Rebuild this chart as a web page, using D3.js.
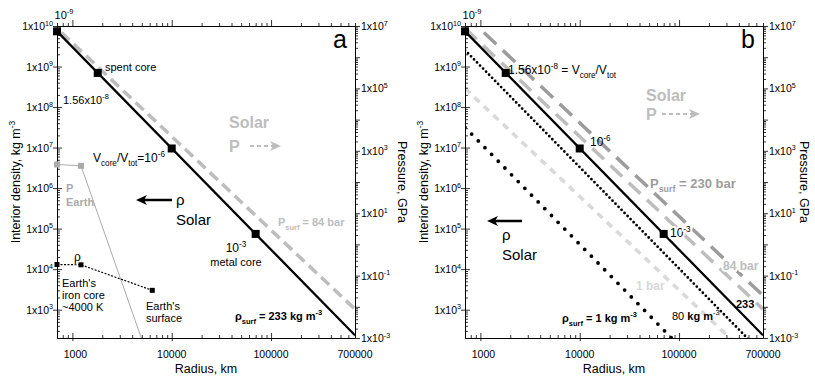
<!DOCTYPE html>
<html>
<head>
<meta charset="utf-8">
<script src="https://cdn.jsdelivr.net/npm/d3@7"></script>
<style>
  body { margin: 0; background: #fff; }
  .halo { paint-order: stroke; stroke: #fff; stroke-width: 4px; stroke-linejoin: round; }
</style>
</head>
<body>
<svg id="chart" width="815" height="378" font-family="Arial, 'Liberation Sans', sans-serif"></svg>
<script>
// axis extents and labelled ticks
const radiusDomain = [700, 700000];
const densityDomain = [200, 1e10];
const pressureDomain = [1e-3, 1e7];
const radiusLabels = [1000, 10000, 100000, 700000];
const densityLabels = [3, 4, 5, 6, 7, 8, 9, 10];        // exponents
const pressureLabels = [-3, -1, 1, 3, 5, 7];            // exponents

// solar-composition profiles: straight lines on log-log, end points at 700 km and 700000 km
const curveRadius = [700, 700000];
const rho233 = [7.4e9, 233];
const rho80 = [2.53e9, 80];
const rho1 = [3.16e7, 1];
const p84 = [8.4e6, 8.4e-3];       // GPa
const p230 = [2.3e7, 2.3e-2];
const p1bar = [1e5, 1e-4];

// core sizes marked on the 233 kg m-3 profile
const coreRadius = [700, 1800, 10000, 70000];
const coreDensity = [7.4e9, 6.95e8, 9.5e6, 7.4e4];

// Earth
const earthRadius = [700, 1220, 6371];
const earthDensity = [13000, 12800, 3000];
const earthPressure = [364, 330, 1e-4];

const W = 298, TOP = 26, BOTTOM = 338;
const svg = d3.select("#chart");

// text with sub/superscripts: parts = [[text, "sup"|"sub"|null, weight?], ...]
function rich(g, x, y, parts, size, opts = {}) {
    const t = g.append("text").attr("x", x).attr("y", y)
        .attr("font-size", size)
        .attr("fill", opts.fill || "#000")
        .attr("text-anchor", opts.anchor || "start")
        .attr("font-weight", opts.bold ? "bold" : "normal");
    if (opts.halo) t.attr("class", "halo");
    let shift = 0;
    parts.forEach(([txt, kind, w]) => {
        const target = kind === "sup" ? -0.42 * size : kind === "sub" ? 0.32 * size : 0;
        const ts = t.append("tspan").attr("dy", target - shift)
            .attr("font-size", kind ? size * 0.68 : size)
            .text(txt);
        if (w !== undefined) ts.attr("font-weight", w);
        shift = target;
    });
    if (opts.rotate) t.attr("transform", `rotate(${opts.rotate},${x},${y})`);
    return t;
}

const isMajor = d => Math.abs(Math.log10(d) - Math.round(Math.log10(d))) < 1e-6;

function panel(left, tag, rightTitle) {
    const right = left + W;
    const x = d3.scaleLog().domain(radiusDomain).range([left, right]);
    const y = d3.scaleLog().domain(densityDomain).range([BOTTOM, TOP]);
    const yp = d3.scaleLog().domain(pressureDomain).range([BOTTOM, TOP]);
    const g = svg.append("g");

    g.append("clipPath").attr("id", "clip" + tag)
        .append("rect").attr("x", left).attr("y", TOP).attr("width", W).attr("height", BOTTOM - TOP);
    const plot = g.append("g").attr("clip-path", `url(#clip${tag})`);

    // axes
    const tickLines = (sel, major, minor) => sel.selectAll(".tick line")
        .attr("stroke", "#000").attr("stroke-width", 0.8)
        .each(function (d) { d3.select(this).call(isMajor(d) ? major : minor); });

    const xt = x.ticks(30);
    g.append("g").attr("transform", `translate(0,${BOTTOM})`)
        .call(d3.axisBottom(x).tickValues(xt).tickFormat("").tickSizeOuter(0))
        .call(s => tickLines(s, l => l.attr("y1", 3).attr("y2", -5), l => l.attr("y2", -3)));
    g.append("g").attr("transform", `translate(0,${TOP})`)
        .call(d3.axisTop(x).tickValues(xt).tickFormat("").tickSizeOuter(0))
        .call(s => tickLines(s, l => l.attr("y2", -6), l => l.attr("y2", -3)));
    g.append("g").attr("transform", `translate(${left},0)`)
        .call(d3.axisLeft(y).tickValues(y.ticks(40)).tickFormat("").tickSizeOuter(0))
        .call(s => tickLines(s, l => l.attr("x1", 5).attr("x2", -4), l => l.attr("x2", 3)));
    g.append("g").attr("transform", `translate(${right},0)`)
        .call(d3.axisRight(yp).tickValues(yp.ticks(40)).tickFormat("").tickSizeOuter(0))
        .call(s => tickLines(s, l => l.attr("x2", 5), l => l.attr("x2", 3)));
    g.selectAll(".domain").attr("stroke", "#000").attr("stroke-width", 1);

    // tick labels
    radiusLabels.forEach(v => g.append("text").attr("x", x(v) + (v === 1000 ? 3 : 0)).attr("y", 358)
        .attr("text-anchor", "middle").attr("font-size", 10.5).text(v));
    densityLabels.forEach(e => rich(g, left - 4, y(Math.pow(10, e)) + 4,
        [["1x10"], [String(e), "sup"]], 10.5, { anchor: "end" }));
    pressureLabels.forEach(e => rich(g, right + 6, yp(Math.pow(10, e)) + 4,
        [["1x10"], [String(e), "sup"]], 10.5));
    rich(g, left + 7, 19, [["10"], ["-9", "sup"]], 11, { anchor: "middle" });

    // axis titles
    const mid = (TOP + BOTTOM) / 2;
    g.append("text").attr("x", left + W / 2).attr("y", 373).attr("text-anchor", "middle")
        .attr("font-size", 12.5).text("Radius, km");
    rich(g, left - 37, mid, [["Interior density, kg m"], ["-3", "sup"]], 12.5,
        { anchor: "middle", rotate: -90 });
    g.append("text").attr("x", right + rightTitle).attr("y", mid).attr("text-anchor", "middle")
        .attr("font-size", 12.5).attr("transform", `rotate(90,${right + rightTitle},${mid})`)
        .text("Pressure, GPa");

    g.append("text").attr("x", right - 22).attr("y", 48).attr("font-size", 25).text(tag);

    const line = sc => d3.line().x(d => x(d[0])).y(d => sc(d[1]));
    return { g, plot, x, y, yp, line, left };
}

function coreMarkers(p) {
    p.plot.append("path").datum(d3.zip(curveRadius, rho233)).attr("d", p.line(p.y))
        .attr("fill", "none").attr("stroke", "#000").attr("stroke-width", 2.3);
    p.g.selectAll(null).data(d3.zip(coreRadius, coreDensity)).join("rect")
        .attr("x", d => p.x(d[0]) - 4).attr("y", d => p.y(d[1]) - 4)
        .attr("width", 8).attr("height", 8).attr("fill", "#000");
}

function arrowLeft(g, x1, x2, yy) {
    g.append("line").attr("x1", x1).attr("x2", x2 + 6).attr("y1", yy).attr("y2", yy)
        .attr("stroke", "#000").attr("stroke-width", 2.5);
    g.append("path").attr("d", `M${x2},${yy} L${x2 + 11},${yy - 5} L${x2 + 8},${yy} L${x2 + 11},${yy + 5} Z`)
        .attr("fill", "#000");
}
function arrowRightDashed(g, x1, x2, yy, color) {
    g.append("line").attr("x1", x1).attr("x2", x2 - 8).attr("y1", yy).attr("y2", yy)
        .attr("stroke", color).attr("stroke-width", 1.8).attr("stroke-dasharray", "4,3");
    g.append("path").attr("d", `M${x2},${yy} L${x2 - 11},${yy - 5} L${x2 - 8},${yy} L${x2 - 11},${yy + 5} Z`)
        .attr("fill", color);
}

// ---------- panel a ----------
const a = panel(57, "a", 43);
a.plot.append("path").datum(d3.zip(curveRadius, p84)).attr("d", a.line(a.yp))
    .attr("fill", "none").attr("stroke", "#bdbdbd").attr("stroke-width", 3.5)
    .attr("stroke-dasharray", "11,6").attr("stroke-dashoffset", -6);
coreMarkers(a);

// Earth pressure and density
a.plot.append("path").datum(d3.zip(earthRadius, earthPressure)).attr("d", a.line(a.yp))
    .attr("fill", "none").attr("stroke", "#aaa").attr("stroke-width", 1);
a.g.selectAll(null).data(d3.zip(earthRadius, earthPressure).slice(0, 2)).join("rect")
    .attr("x", d => a.x(d[0]) - 3).attr("y", d => a.yp(d[1]) - 3)
    .attr("width", 6).attr("height", 6).attr("fill", "#aaa");
a.plot.append("path").datum(d3.zip(earthRadius, earthDensity)).attr("d", a.line(a.y))
    .attr("fill", "none").attr("stroke", "#000").attr("stroke-width", 1.2).attr("stroke-dasharray", "2,1.5");
a.g.selectAll(null).data(d3.zip(earthRadius, earthDensity)).join("rect")
    .attr("x", d => a.x(d[0]) - 2.5).attr("y", d => a.y(d[1]) - 2.5)
    .attr("width", 5).attr("height", 5).attr("fill", "#000");

rich(a.g, 105, 71, [["spent core"]], 11);
rich(a.g, 63, 104, [["1.56x10"], ["-8", "sup"]], 11);
rich(a.g, 93, 162, [["V"], ["core", "sub"], ["/V"], ["tot", "sub"], ["=10"], ["-6", "sup"]], 12);
rich(a.g, 236, 252, [["10"], ["-3", "sup"]], 12, { anchor: "middle" });
rich(a.g, 236, 266, [["metal core"]], 11, { anchor: "middle" });
rich(a.g, 235, 320, [["ρ"], ["surf", "sub"], [" = 233 kg m"], ["-3", "sup"]], 11, { bold: true });
rich(a.g, 278, 226, [["P"], ["surf", "sub"], [" = 84 bar"]], 11, { bold: true, fill: "#bdbdbd" });
rich(a.g, 229, 128, [["Solar"]], 16, { bold: true, fill: "#bdbdbd" });
rich(a.g, 229, 152, [["P"]], 16, { bold: true, fill: "#bdbdbd" });
arrowRightDashed(a.g, 250, 281, 146, "#bdbdbd");
arrowLeft(a.g, 172, 136, 200);
rich(a.g, 176, 205, [["ρ"]], 15);
rich(a.g, 176, 225, [["Solar"]], 15);
rich(a.g, 66, 192, [["P"]], 11, { bold: true, fill: "#aaa" });
rich(a.g, 66, 206, [["Earth"]], 11, { bold: true, fill: "#aaa" });
rich(a.g, 74, 261, [["ρ"]], 12);
rich(a.g, 62, 287, [["Earth's"]], 11);
rich(a.g, 62, 299, [["iron core"]], 11);
rich(a.g, 62, 311, [["~4000 K"]], 11);
rich(a.g, 146, 310, [["Earth's"]], 11);
rich(a.g, 146, 322, [["surface"]], 11);

// ---------- panel b ----------
const b = panel(465, "b", 37);
const profile = (data, sc, color, width, dash, cap) => b.plot.append("path")
    .datum(d3.zip(curveRadius, data)).attr("d", b.line(sc))
    .attr("fill", "none").attr("stroke", color).attr("stroke-width", width)
    .attr("stroke-dasharray", dash).attr("stroke-linecap", cap || "butt");
profile(p1bar, b.yp, "#d9d9d9", 3.5, "7,6");
profile(p84, b.yp, "#bdbdbd", 3.5, "16,9");
profile(p230, b.yp, "#9c9c9c", 3.5, "17,9");
profile(rho1, b.y, "#000", 3.8, "0,9.5", "round");
profile(rho80, b.y, "#000", 2.8, "0,4.3", "round");
coreMarkers(b);

rich(b.g, 508, 74, [["1.56x10"], ["-8", "sup"], [" = V"], ["core", "sub"], ["/V"], ["tot", "sub"]], 12);
rich(b.g, 590, 146, [["10"], ["-6", "sup"]], 12);
rich(b.g, 670, 237, [["10"], ["-3", "sup"]], 12, { halo: true });
rich(b.g, 646, 101, [["Solar"]], 16, { bold: true, fill: "#bdbdbd" });
rich(b.g, 646, 120, [["P"]], 16, { bold: true, fill: "#bdbdbd" });
arrowRightDashed(b.g, 662, 700, 114, "#bdbdbd");
rich(b.g, 650, 188, [["P"], ["surf", "sub"], [" = 230 bar"]], 13, { bold: true, fill: "#9c9c9c", halo: true });
rich(b.g, 723, 270, [["84 bar"]], 12, { bold: true, fill: "#bdbdbd", halo: true });
rich(b.g, 736, 308, [["233"]], 11, { bold: true });
rich(b.g, 636, 290, [["1 bar"]], 12, { bold: true, fill: "#d9d9d9" });
rich(b.g, 672, 320, [["80 "], ["kg m", null, "bold"], ["-3", "sup"]], 11);
rich(b.g, 562, 322, [["ρ"], ["surf", "sub"], [" = 1 kg m"], ["-3", "sup"]], 11, { bold: true });
arrowLeft(b.g, 522, 487, 221);
rich(b.g, 502, 240, [["ρ"]], 15);
rich(b.g, 502, 260, [["Solar"]], 15);
</script>
</body>
</html>
